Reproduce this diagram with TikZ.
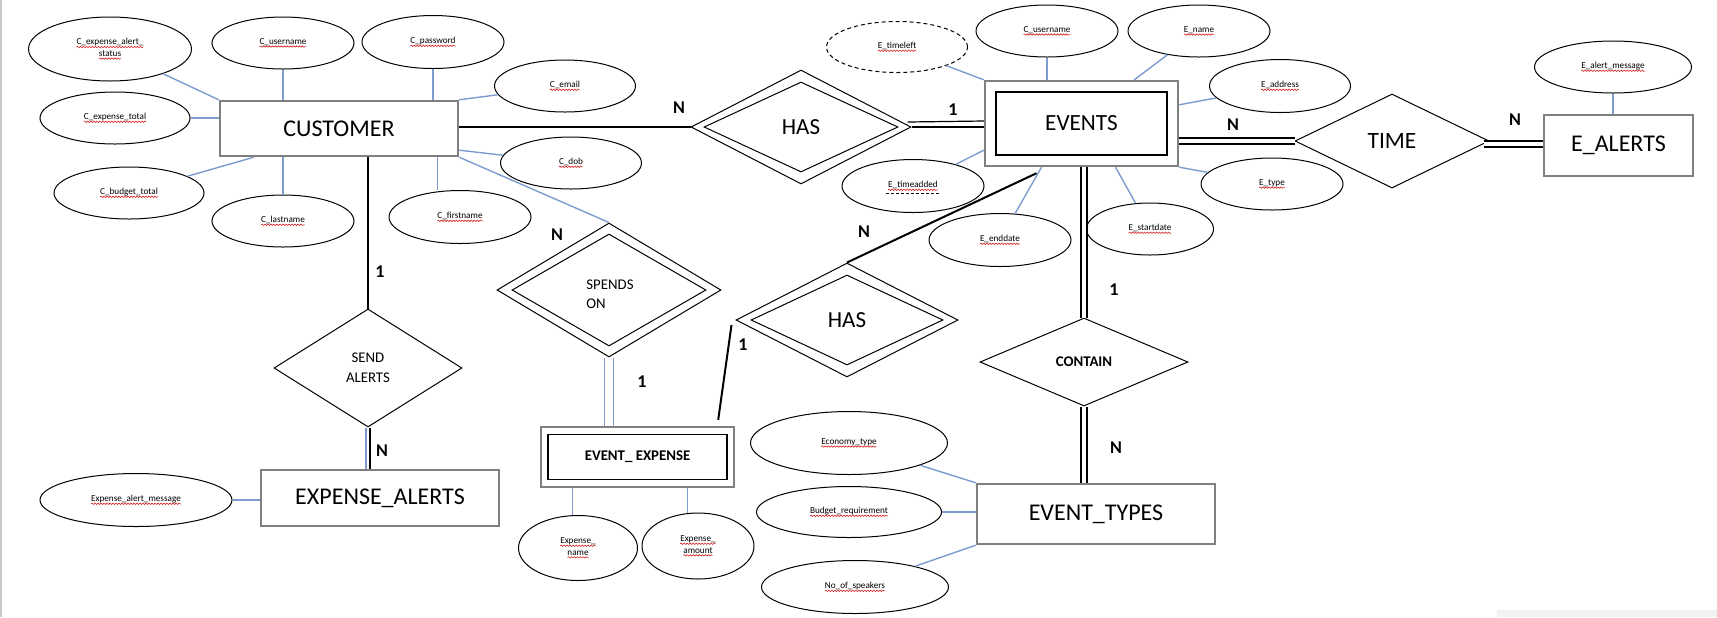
\documentclass[tikz,border=0pt]{standalone}
\usepackage{fontspec}
\setmainfont{Carlito}
\usepackage{tikz}
\usetikzlibrary{shapes.geometric,calc,decorations.pathmorphing}
\definecolor{attrline}{RGB}{124,156,208}
\definecolor{boxgray}{RGB}{127,127,127}
\definecolor{squigred}{RGB}{214,30,30}
\definecolor{pagegray}{RGB}{200,200,200}
\newcommand{\squig}[1]{\tikz[baseline=(sqtext.base)]{%
  \node[shape=rectangle,draw=none,fill=none,inner sep=0pt,outer sep=0pt,minimum width=0pt,minimum height=0pt,align=none] (sqtext) {#1};
  \draw[squigred,solid,line width=0.3pt,decorate,decoration={snake,amplitude=0.35pt,segment length=1.5pt}]
    ([yshift=-1.1pt]sqtext.base west) -- ([yshift=-1.1pt]sqtext.base east);}}

\begin{document}
\begin{tikzpicture}[x=0.5pt,y=-0.5pt,
    ent/.style={draw=boxgray,line width=1.2pt,inner sep=0pt,font=\fontsize{12}{14}\selectfont},
    entin/.style={draw,line width=0.7pt,inner sep=0pt},
    rel/.style={diamond,draw,line width=0.5pt,inner sep=0pt},
    attr/.style={ellipse,draw,line width=0.5pt,inner sep=0pt,align=center,font=\fontsize{4.6}{5.8}\selectfont},
    link/.style={draw=attrline,line width=0.7pt},
    conn/.style={line width=1pt},
    dbl/.style={double,line width=0.9pt,double distance=2.2pt},
    card/.style={font=\fontsize{9}{10}\selectfont\bfseries}]
  \useasboundingbox (0,0) rectangle (1717,617);
  % Page edges
  \draw[pagegray,line width=1pt] (0.8,0) -- (0.8,617);
  \fill[gray!10] (1497,610) rectangle (1717,617);

  % Entities
  \node[ent,minimum width=119pt,minimum height=27.5pt] (cust) at (339,128.5) {CUSTOMER};
  \node[ent,minimum width=96.5pt,minimum height=42.5pt] (events) at (1081.5,123.5) {};
  \node[entin,minimum width=85.5pt,minimum height=31.5pt,font=\fontsize{11.6}{14}\selectfont] (eventsin) at (events) {EVENTS};
  \node[ent,minimum width=74.5pt,minimum height=30.5pt] (ealerts) at (1618.5,145.5) {E\_ALERTS};
  \node[ent,minimum width=96.5pt,minimum height=30pt] (eexp) at (637.5,457) {};
  \node[entin,minimum width=89.5pt,minimum height=22.5pt,font=\fontsize{7.4}{9}\selectfont\bfseries] (eexpin) at (eexp) {EVENT\_ EXPENSE};
  \node[ent,minimum width=119pt,minimum height=28pt] (expal) at (380,498) {EXPENSE\_ALERTS};
  \node[ent,minimum width=119pt,minimum height=30pt] (evtypes) at (1096,514) {EVENT\_TYPES};

  % Relationships
  \node[rel,minimum width=110pt,minimum height=57pt] (has1) at (801,127) {};
  \node[rel,minimum width=97pt,minimum height=45pt,font=\fontsize{11.5}{14}\selectfont] (has1in) at (has1) {HAS};
  \node[rel,minimum width=111pt,minimum height=57pt] (has2) at (847,320) {};
  \node[rel,minimum width=96pt,minimum height=45pt,font=\fontsize{11.5}{14}\selectfont] (has2in) at (has2) {HAS};
  \node[rel,minimum width=112pt,minimum height=67pt] (spends) at (609,290) {};
  \node[rel,minimum width=97pt,minimum height=56pt] (spendsin) at (spends) {};
  \node[inner sep=0pt,align=left,font=\fontsize{7.4}{9.5}\selectfont] (spendstxt) at (610,294) {SPENDS\\ON};
  \node[rel,minimum width=94pt,minimum height=59pt,align=center,font=\fontsize{7.4}{10}\selectfont] (sendal) at (368,368) {SEND\\ALERTS};
  \node[rel,minimum width=104pt,minimum height=44pt,font=\fontsize{7.4}{9}\selectfont\bfseries] (contain) at (1084,362) {CONTAIN};
  \node[rel,minimum width=97pt,minimum height=47pt,font=\fontsize{11.7}{14}\selectfont] (time) at (1392,141) {TIME};

  % Customer attributes
  \node[attr,minimum width=81.5pt,minimum height=32pt] (calert) at (110,49) {\squig{C\_expense\_alert\_}\\\squig{status}};
  \node[attr,minimum width=71pt,minimum height=26pt] (cuser) at (283,43) {\squig{C\_username}};
  \node[attr,minimum width=71pt,minimum height=26.5pt] (cpass) at (433,42) {\squig{C\_password}};
  \node[attr,minimum width=70.5pt,minimum height=26pt] (cemail) at (565,86) {\squig{C\_email}};
  \node[attr,minimum width=75pt,minimum height=26pt] (ctotal) at (115,118) {\squig{C\_expense\_total}};
  \node[attr,minimum width=75pt,minimum height=26pt] (cbudget) at (129,193) {\squig{C\_budget\_total}};
  \node[attr,minimum width=71pt,minimum height=26pt] (clast) at (283,221) {\squig{C\_lastname}};
  \node[attr,minimum width=71pt,minimum height=26.5pt] (cfirst) at (460,217) {\squig{C\_firstname}};
  \node[attr,minimum width=70.5pt,minimum height=26pt] (cdob) at (571,163) {\squig{C\_dob}};

  % Events attributes
  \node[attr,dash pattern=on 2pt off 1.5pt,minimum width=70.5pt,minimum height=25.5pt] (etleft) at (897,47) {\squig{E\_timeleft}};
  \node[attr,minimum width=71pt,minimum height=26pt] (euser) at (1047,31) {\squig{C\_username}};
  \node[attr,minimum width=71pt,minimum height=26pt] (ename) at (1199,31) {\squig{E\_name}};
  \node[attr,minimum width=70.5pt,minimum height=26.5pt] (eaddr) at (1280,86) {\squig{E\_address}};
  \node[attr,minimum width=71pt,minimum height=26pt] (etype) at (1272,184) {\squig{E\_type}};
  \node[attr,minimum width=71pt,minimum height=26.5pt] (etadd) at (913,186) {\squig{E\_timeadded}};
  \node[attr,minimum width=71pt,minimum height=26.5pt] (eend) at (1000,240) {\squig{E\_enddate}};
  \node[attr,minimum width=63.5pt,minimum height=26pt] (estart) at (1150,229) {\squig{E\_startdate}};
  \draw[dash pattern=on 1.5pt off 1pt,line width=0.4pt] ($(etadd)+(-27,7)$) -- ($(etadd)+(28,7)$);

  % Other attributes
  \node[attr,minimum width=78.5pt,minimum height=26pt] (ealmsg) at (1613,67) {\squig{E\_alert\_message}};
  \node[attr,minimum width=96pt,minimum height=26.5pt] (expmsg) at (136,500) {\squig{Expense\_alert\_message}};
  \node[attr,minimum width=59.5pt,minimum height=32.5pt] (expname) at (578,548) {\squig{Expense\_}\\\squig{name}};
  \node[attr,minimum width=56pt,minimum height=33pt] (expamt) at (698,546) {\squig{Expense\_}\\\squig{amount}};
  \node[attr,minimum width=98.5pt,minimum height=31.5pt] (econ) at (849,443) {\squig{Economy\_type}};
  \node[attr,minimum width=92.5pt,minimum height=25.5pt] (ebud) at (849,512) {\squig{Budget\_requirement}};
  \node[attr,minimum width=93.5pt,minimum height=26.5pt] (espk) at (855,587) {\squig{No\_of\_speakers}};

  % Attribute links
  \draw[link] (calert) -- (cust.north west);
  \draw[link] (cuser) -- (cuser |- cust.north);
  \draw[link] (cpass) -- (cpass |- cust.north);
  \draw[link] (cemail) -- (cust.north east);
  \draw[link] (ctotal) -- (ctotal -| cust.west);
  \draw[link] (cbudget) -- ($(cust.south west)+(35,0)$);
  \draw[link] (clast) -- (clast |- cust.south);
  \draw[link] ($(cust.south east)+(-22,0)$) coordinate (cfx) -- (cfx |- cfirst.north);
  \draw[link] (cdob) -- ($(cust.south east)+(0,-7)$);
  \draw[link] (cust.south east) -- (spends.north);
  \draw[link] (etleft) -- (events.north west);
  \draw[link] (euser) -- (euser |- events.north);
  \draw[link] (ename) -- ($(events.north east)+(-45,0)$);
  \draw[link] (eaddr) -- ($(events.north east)+(0,25)$);
  \draw[link] (etype) -- (events.south east);
  \draw[link] (etadd) -- ($(events.south west)+(0,-17)$);
  \draw[link] (eend) -- ($(events.south)+(-40,0)$);
  \draw[link] (estart) -- ($(events.south)+(34,0)$);
  \draw[link] (ealmsg) -- (ealmsg |- ealerts.north);
  \draw[link] (expmsg) -- (expmsg -| expal.west);
  \draw[link] ($(eexp.south)+(-65,0)$) coordinate (enx) -- (enx |- expname.north);
  \draw[link] ($(eexp.south)+(50,0)$) coordinate (eax) -- (eax |- expamt.north);
  \draw[link] (econ) -- (evtypes.north west);
  \draw[link] (ebud) -- (ebud -| evtypes.west);
  \draw[link] (espk) -- (evtypes.south west);

  % Relationship lines
  \draw[conn] (has1.west -| cust.east) -- (has1.west);
  \draw[conn] (has1.east) -- (has1.east -| events.west);
  \draw[line width=0.6pt] ($(has1.east)+(-4,-5)$) -- ($(events.west)+(0,-2.5)$);
  \draw[conn] (has2.north) -- ($(events.south)+(-45,6)$);
  \draw[conn] ($(has2.west)+(-4,5)$) -- ($(eexp.north east)+(-17,-6)$);
  \draw[dbl,draw=attrline,line width=0.6pt,double distance=3.9pt] (spends.south) -- (spends.south |- eexp.north);
  \draw[conn] (sendal.north |- cust.south) -- (sendal.north);
  \draw[draw=attrline,line width=0.8pt] ($(sendal.south)+(-2,0)$) -- ($(sendal.south |- expal.north)+(-2,0)$);
  \draw[conn] ($(sendal.south)+(1.5,0)$) -- ($(sendal.south |- expal.north)+(1.5,0)$);
  \draw[dbl] (contain.north |- events.south) -- (contain.north);
  \draw[dbl] (contain.south) -- (contain.south |- evtypes.north);
  \draw[dbl] (time.west -| events.east) -- (time.west);
  \draw[dbl] ($(time.east)+(-6,3)$) -- ($(time.east -| ealerts.west)+(0,3)$);

  % Cardinalities
  \node[card] (nHas1) at (679,108) {N};
  \node[card] (oneHas1) at (953,110) {1};
  \node[card] (nSpends) at (557,235) {N};
  \node[card] (oneSpends) at (642,382) {1};
  \node[card] (nHas2) at (864,232) {N};
  \node[card] (oneHas2) at (743,345) {1};
  \node[card] (oneSend) at (380,272) {1};
  \node[card] (nSend) at (382,451) {N};
  \node[card] (oneContain) at (1114,290) {1};
  \node[card] (nContain) at (1116,448) {N};
  \node[card] (nTime) at (1233,125) {N};
  \node[card] (nAlerts) at (1515,120) {N};
\end{tikzpicture}
\end{document}
